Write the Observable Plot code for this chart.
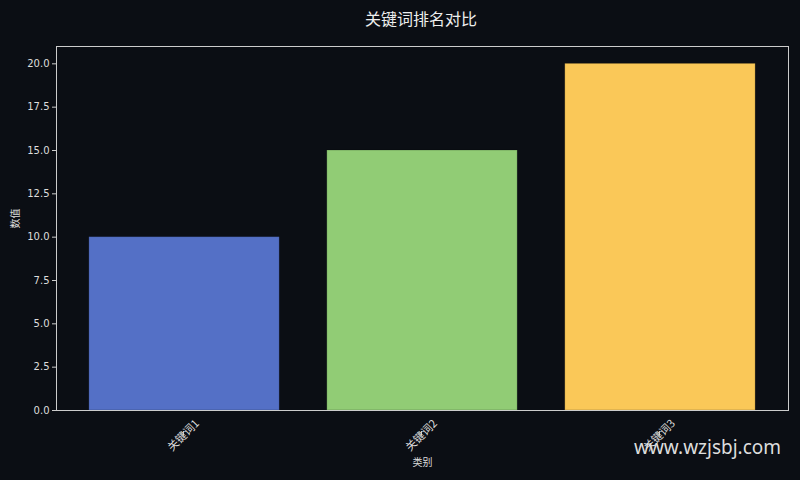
<!DOCTYPE html>
<html><head><meta charset="utf-8">
<script src="https://cdn.jsdelivr.net/npm/d3@7"></script>
<script src="https://cdn.jsdelivr.net/npm/@observablehq/plot@0.6"></script>
<style>
html,body{margin:0;padding:0;background:#0b0e14;}
#wrap{position:relative;width:800px;height:480px;background:#0b0e14;overflow:hidden;}
#title{position:absolute;left:56px;width:730px;top:6px;text-align:center;color:#eeeeee;font:16px "Noto Sans CJK SC","DejaVu Sans",sans-serif;}
#chart{position:absolute;left:0;top:36px;}
#wm{position:absolute;left:634px;top:434px;color:#dddddd;font:19px "Noto Sans","DejaVu Sans",sans-serif;white-space:nowrap;}
</style></head>
<body><div id="wrap"><div id="title">关键词排名对比</div><div id="chart"></div><div id="wm">www.wzjsbj.com</div></div>
<script>
const categories = ["关键词1","关键词2","关键词3"];
const values = [10, 15, 20];
const colors = ["#5470c6","#91cc75","#fac858"];
const yTicks = [0,2.5,5,7.5,10,12.5,15,17.5,20];

const data = categories.map((c,i)=>({cat:c, val:values[i], color:colors[i]}));
const fontFam = '"DejaVu Sans","Noto Sans CJK SC",sans-serif';
const chart = Plot.plot({
  width:800, height:444,
  marginLeft:56, marginRight:12, marginTop:10, marginBottom:70,
  style:{background:"#0b0e14", color:"#dddddd", fontFamily:fontFam, fontSize:"10px"},
  x:{domain:categories, paddingInner:0.2, paddingOuter:0.138, round:false, label:null},
  y:{domain:[0,21], label:null},
  marks:[
    Plot.barY(data,{x:"cat", y:"val", fill:"color", stroke:"#000000", strokeOpacity:0.25, strokeWidth:0.8}),
    Plot.frame({stroke:"#cccccc", strokeWidth:1}),
    Plot.axisY({ticks:yTicks, tickFormat:d3.format(".1f"), tickSize:4, tickPadding:3, stroke:"#cccccc", fill:"#dddddd", fontSize:10, label:null}),
    Plot.axisX({tickSize:4, tickRotate:-45, textAnchor:"middle", lineAnchor:"middle", tickPadding:0, dy:21, dx:-1, stroke:"#cccccc", fill:"#dddddd", fontSize:11, fontFamily:'"Noto Sans CJK SC",sans-serif', label:null}),
    Plot.text(["类别"],{frameAnchor:"bottom", dy:55, fill:"#dddddd", fontSize:10, fontFamily:'"Noto Sans CJK SC",sans-serif'}),
    Plot.text(["数值"],{frameAnchor:"left", dx:-41, rotate:-90, fill:"#dddddd", fontSize:10, fontFamily:'"Noto Sans CJK SC",sans-serif'})
  ]
});
document.getElementById("chart").appendChild(chart);
</script></body></html>
